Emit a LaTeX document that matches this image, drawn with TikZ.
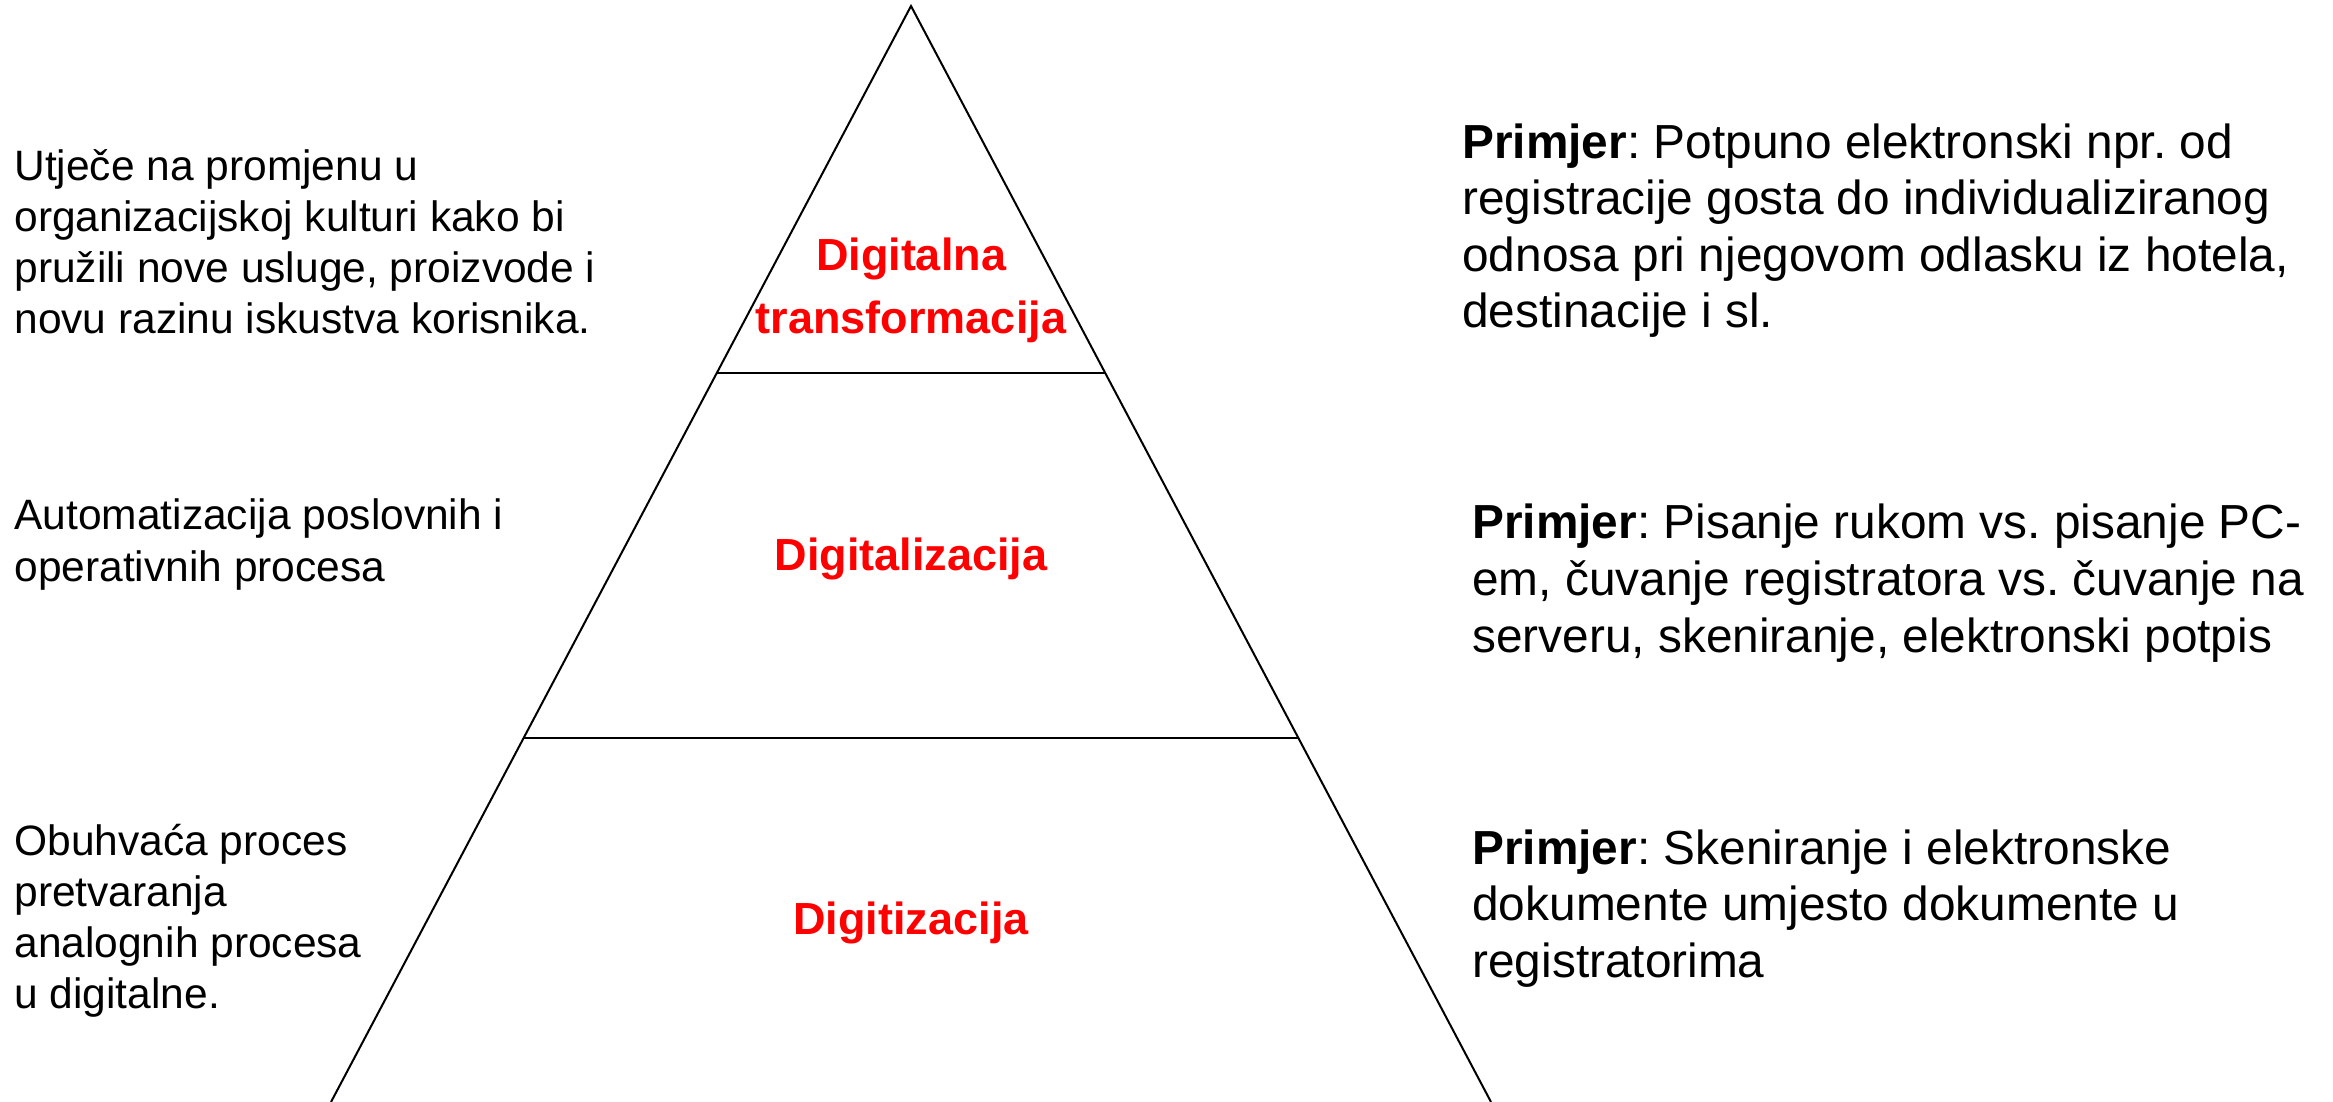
\documentclass[tikz,border=0pt]{standalone}
\usepackage{fontspec}
\setmainfont{Liberation Sans}
\usetikzlibrary{calc}
\frenchspacing

\begin{document}
\begin{tikzpicture}[x=0.5pt, y=-0.5pt,
    edge/.style={line width=1pt, black},
    sidetext/.style={anchor=base west, inner sep=0pt, font=\fontsize{21.25pt}{25.5pt}\selectfont},
    exampletext/.style={anchor=base west, inner sep=0pt, font=\fontsize{23.9pt}{28pt}\selectfont},
    levellabel/.style={anchor=base, inner sep=0pt, text=red, font=\fontsize{22.5pt}{27pt}\selectfont\bfseries}]

  % canvas
  \fill[white] (0,0) rectangle (2333,1102);
  \useasboundingbox (0,0) rectangle (2333,1102);

  % pyramid outline
  \coordinate (apex) at (911,6);
  \coordinate (bl) at (331,1102);
  \coordinate (br) at (1491,1102);
  \coordinate (l1) at ($(apex)!0.3349!(bl)$);
  \coordinate (r1) at ($(apex)!0.3349!(br)$);
  \coordinate (l2) at ($(apex)!0.6679!(bl)$);
  \coordinate (r2) at ($(apex)!0.6679!(br)$);
  \draw[edge, line join=miter] (bl) -- (apex) -- (br);
  \draw[edge] (l1) -- (r1);
  \draw[edge] (l2) -- (r2);

  % level names
  \node[levellabel] (top1) at (911,270) {Digitalna};
  \node[levellabel] (top2) at (911,333) {transformacija};
  \node[levellabel] (mid) at (911,570) {Digitalizacija};
  \node[levellabel] (low) at (911,934) {Digitizacija};

  % descriptions on the left
  \foreach \t [count=\i] in {Utječe na promjenu u, organizacijskoj kulturi kako bi, {pružili nove usluge, proizvode i}, novu razinu iskustva korisnika.}
    \node[sidetext] (da\i) at (14,{180+51*(\i-1)}) {\t};
  \foreach \t [count=\i] in {Automatizacija poslovnih i, operativnih procesa}
    \node[sidetext] (db\i) at (14,{529+52*(\i-1)}) {\t};
  \foreach \t [count=\i] in {Obuhvaća proces, pretvaranja, analognih procesa, u digitalne.}
    \node[sidetext] (dc\i) at (14,{855+51*(\i-1)}) {\t};

  % examples on the right
  \node[exampletext] (ea1) at (1462,158) {\textbf{Primjer}: Potpuno elektronski npr. od};
  \foreach \t [count=\i from 2] in {registracije gosta do individualiziranog, {odnosa pri njegovom odlasku iz hotela,}, destinacije i sl.}
    \node[exampletext] (ea\i) at (1462,{158+56.5*(\i-1)}) {\t};

  \node[exampletext] (eb1) at (1472,538) {\textbf{Primjer}: Pisanje rukom vs. pisanje PC-};
  \foreach \t [count=\i from 2] in {{em, čuvanje registratora vs. čuvanje na}, {serveru, skeniranje, elektronski potpis}}
    \node[exampletext] (eb\i) at (1472,{538+57*(\i-1)}) {\t};

  \node[exampletext] (ec1) at (1472,864) {\textbf{Primjer}: Skeniranje i elektronske};
  \foreach \t [count=\i from 2] in {dokumente umjesto dokumente u, registratorima}
    \node[exampletext] (ec\i) at (1472,{864+56.5*(\i-1)}) {\t};
\end{tikzpicture}
\end{document}
